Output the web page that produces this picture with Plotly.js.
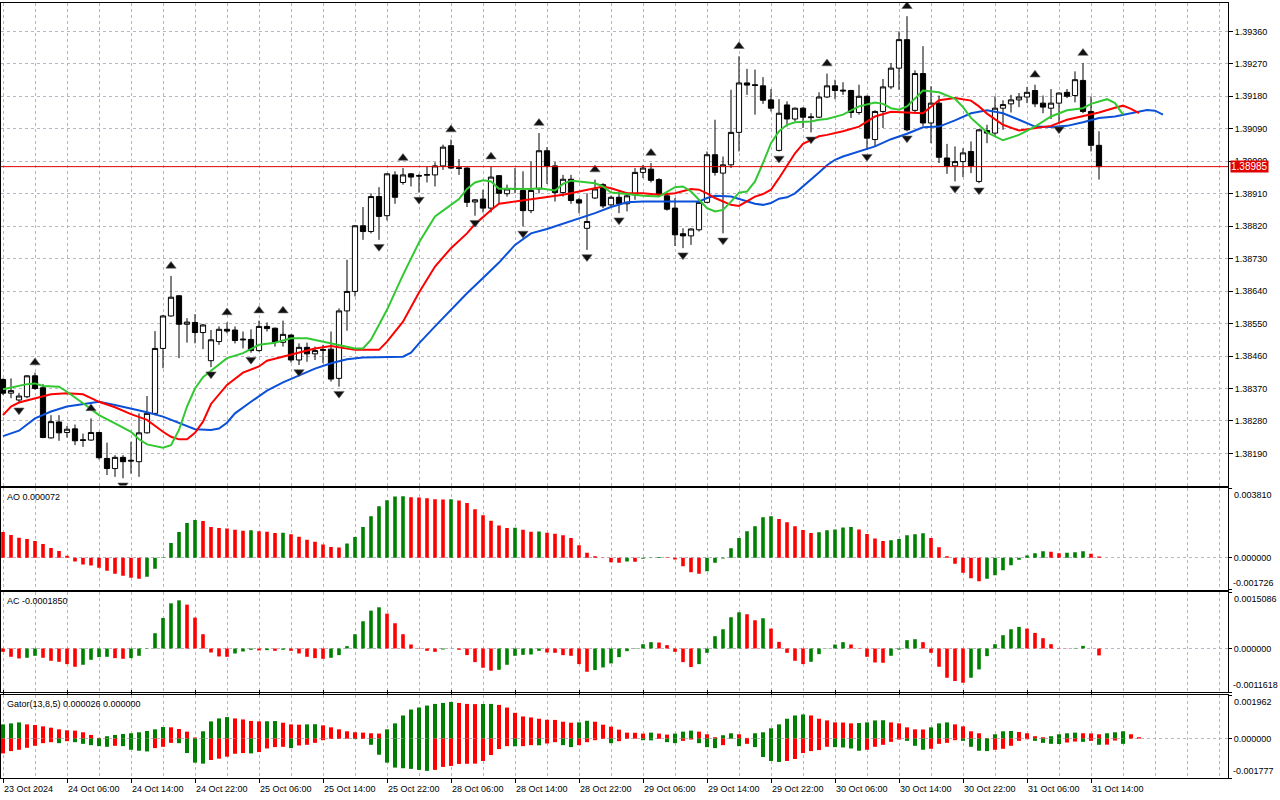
<!DOCTYPE html>
<html><head><meta charset="utf-8">
<script src="https://cdn.plot.ly/plotly-3.0.1.min.js"></script>
<style>html,body{margin:0;padding:0;background:#fff;overflow:hidden}#chart{width:1280px;height:800px}</style>
</head><body><div id="chart"></div>
<script>
// ---------- DATA ----------
const timeLabels = ['23 Oct 2024','24 Oct 06:00','24 Oct 14:00','24 Oct 22:00','25 Oct 06:00','25 Oct 14:00','25 Oct 22:00','28 Oct 06:00','28 Oct 14:00','28 Oct 22:00','29 Oct 06:00','29 Oct 14:00','29 Oct 22:00','30 Oct 06:00','30 Oct 14:00','30 Oct 22:00','31 Oct 06:00','31 Oct 14:00'];
const labelBars = [0,8,16,24,32,40,48,56,64,72,80,88,96,104,112,120,128,136];
const priceTicks = [1.38190,1.38280,1.38370,1.38460,1.38550,1.38640,1.38730,1.38820,1.38910,1.39000,1.39090,1.39180,1.39270,1.39360];

const opens = [1.38395,1.38357,1.38338,1.38347,1.38405,1.38372,1.38233,1.38277,1.38248,1.38258,
1.38228,1.38227,1.38248,1.38176,1.38148,1.38179,1.38171,1.38167,1.38247,1.38301,
1.38481,1.38571,1.38627,1.38548,1.38553,1.38525,1.38447,1.38500,1.38534,1.38532,
1.38507,1.38506,1.38475,1.38542,1.38537,1.38498,1.38518,1.38449,1.38484,1.38466,
1.38478,1.38479,1.38398,1.38585,1.38639,1.38821,1.38805,1.38902,1.38849,1.38962,
1.38941,1.38965,1.38960,1.38961,1.38962,1.38987,1.39043,1.38982,1.38981,1.38887,
1.38895,1.38870,1.38960,1.38910,1.38923,1.38919,1.38863,1.38923,1.39029,1.38987,
1.38913,1.38950,1.38893,1.38814,1.38898,1.38935,1.38879,1.38900,1.38882,1.38907,
1.38969,1.38978,1.38949,1.38904,1.38870,1.38799,1.38793,1.38810,1.38886,1.39018,
1.38967,1.38990,1.39080,1.39217,1.39212,1.39209,1.39170,1.39030,1.39156,1.39117,
1.39147,1.39123,1.39122,1.39178,1.39209,1.39197,1.39196,1.39135,1.39180,1.39060,
1.39138,1.39206,1.39258,1.39337,1.39141,1.39243,1.39106,1.39161,1.39009,1.38987,
1.38999,1.39027,1.38944,1.39085,1.39078,1.39147,1.39159,1.39170,1.39178,1.39196,
1.39161,1.39147,1.39161,1.39191,1.39182,1.39224,1.39138,1.39044];
const highs = [1.38398,1.38398,1.38358,1.38407,1.38414,1.38382,1.38296,1.38296,1.38266,1.38270,
1.38245,1.38287,1.38250,1.38220,1.38185,1.38185,1.38222,1.38301,1.38349,1.38529,
1.38574,1.38682,1.38629,1.38565,1.38576,1.38549,1.38532,1.38542,1.38553,1.38542,
1.38528,1.38534,1.38558,1.38553,1.38539,1.38558,1.38520,1.38495,1.38497,1.38486,
1.38491,1.38528,1.38592,1.38727,1.38823,1.38873,1.38911,1.38928,1.38967,1.38972,
1.38981,1.38967,1.38965,1.38985,1.38997,1.39046,1.39060,1.39006,1.38983,1.38895,
1.38921,1.38985,1.38961,1.38935,1.38981,1.38972,1.38999,1.39078,1.39039,1.38998,
1.38962,1.38962,1.38898,1.38911,1.38949,1.38939,1.38904,1.38916,1.38913,1.38981,
1.38990,1.38995,1.38953,1.38907,1.38898,1.38814,1.38814,1.38895,1.39027,1.39115,
1.39013,1.39198,1.39291,1.39256,1.39254,1.39233,1.39200,1.39172,1.39166,1.39149,
1.39150,1.39133,1.39191,1.39243,1.39226,1.39219,1.39198,1.39212,1.39182,1.39141,
1.39228,1.39272,1.39360,1.39402,1.39252,1.39319,1.39208,1.39182,1.39048,1.39041,
1.39036,1.39055,1.39089,1.39101,1.39180,1.39169,1.39184,1.39189,1.39206,1.39212,
1.39182,1.39200,1.39191,1.39200,1.39249,1.39272,1.39180,1.39083];
const lows = [1.38352,1.38343,1.38329,1.38343,1.38366,1.38232,1.38231,1.38225,1.38234,1.38213,
1.38208,1.38225,1.38173,1.38130,1.38125,1.38121,1.38134,1.38125,1.38245,1.38296,
1.38426,1.38569,1.38454,1.38497,1.38495,1.38479,1.38429,1.38491,1.38523,1.38495,
1.38481,1.38469,1.38472,1.38528,1.38486,1.38486,1.38442,1.38435,1.38444,1.38449,
1.38440,1.38389,1.38375,1.38530,1.38625,1.38782,1.38800,1.38782,1.38836,1.38882,
1.38935,1.38930,1.38913,1.38941,1.38930,1.38976,1.38978,1.38962,1.38873,1.38849,
1.38858,1.38858,1.38882,1.38902,1.38911,1.38819,1.38856,1.38911,1.38937,1.38888,
1.38902,1.38882,1.38856,1.38754,1.38895,1.38870,1.38874,1.38856,1.38861,1.38893,
1.38953,1.38941,1.38902,1.38863,1.38765,1.38759,1.38768,1.38805,1.38884,1.38960,
1.38800,1.38981,1.39027,1.39184,1.39129,1.39159,1.39138,1.39027,1.39096,1.39110,
1.39092,1.39080,1.39120,1.39175,1.39172,1.39184,1.39120,1.39129,1.39032,1.39041,
1.39092,1.39200,1.39198,1.39083,1.39133,1.39098,1.39050,1.38995,1.38965,1.38944,
1.38956,1.38967,1.38939,1.39050,1.39071,1.39087,1.39135,1.39150,1.39161,1.39150,
1.39133,1.39117,1.39108,1.39175,1.39163,1.39133,1.39027,1.38949];
const closes = [1.38357,1.38364,1.38349,1.38405,1.38370,1.38234,1.38278,1.38247,1.38257,1.38225,
1.38226,1.38248,1.38178,1.38148,1.38179,1.38167,1.38169,1.38247,1.38301,1.38481,
1.38571,1.38623,1.38548,1.38554,1.38525,1.38546,1.38505,1.38534,1.38529,1.38503,
1.38505,1.38475,1.38542,1.38536,1.38498,1.38520,1.38449,1.38484,1.38466,1.38475,
1.38476,1.38396,1.38585,1.38639,1.38821,1.38805,1.38902,1.38847,1.38965,1.38900,
1.38962,1.38956,1.38959,1.38963,1.38987,1.39039,1.38981,1.38980,1.38886,1.38893,
1.38870,1.38956,1.38911,1.38923,1.38924,1.38863,1.38919,1.39029,1.38987,1.38913,
1.38950,1.38891,1.38884,1.38833,1.38923,1.38876,1.38900,1.38882,1.38904,1.38969,
1.38981,1.38947,1.38907,1.38867,1.38796,1.38793,1.38812,1.38886,1.39018,1.38969,
1.38990,1.39080,1.39217,1.39211,1.39210,1.39169,1.39147,1.39133,1.39117,1.39147,
1.39122,1.39121,1.39178,1.39209,1.39196,1.39195,1.39135,1.39180,1.39064,1.39138,
1.39206,1.39258,1.39337,1.39087,1.39243,1.39106,1.39161,1.39011,1.38987,1.38999,
1.39023,1.38987,1.39087,1.39078,1.39147,1.39157,1.39170,1.39178,1.39191,1.39159,
1.39150,1.39161,1.39189,1.39180,1.39226,1.39138,1.39044,1.38985];

const jawX = [0,2,4,6,8,10,12,14,16,18,20,22,24,26,27,28,29,31,33,35,37,39,41,43,45,48,50,51,52,54,56,58,60,62,64,66,68,70,72,74,76,78,80,87,88,89,91,92,94,95,96,97,98,99,100,101,102,103,104,105,107,109,111,113,115,117,119,121,123,125,127,129,131,133,135,137,139,141,142,143,144,145];
const jawY = [1.38238,1.38253,1.38287,1.38306,1.38320,1.38327,1.38333,1.38324,1.38315,1.38304,1.38292,1.38275,1.38257,1.38255,1.38259,1.38275,1.38301,1.38333,1.38364,1.38387,1.38406,1.38425,1.38440,1.38451,1.38456,1.38457,1.38458,1.38469,1.38495,1.38542,1.38588,1.38634,1.38676,1.38719,1.38768,1.38800,1.38812,1.38826,1.38842,1.38856,1.38873,1.38886,1.38888,1.38888,1.38898,1.38904,1.38902,1.38896,1.38882,1.38879,1.38884,1.38896,1.38900,1.38911,1.38930,1.38948,1.38969,1.38989,1.39004,1.39013,1.39027,1.39041,1.39061,1.39076,1.39094,1.39096,1.39113,1.39133,1.39141,1.39133,1.39115,1.39096,1.39095,1.39098,1.39108,1.39120,1.39124,1.39132,1.39137,1.39142,1.39140,1.39129];
const teethX = [0,1,2,4,6,8,10,12,14,16,18,20,21,22,23,24,25,26,27,28,30,32,33,35,37,39,41,43,44,47,48,50,52,54,56,58,59,60,61,62,64,66,68,70,72,74,75,76,77,78,80,82,84,85,86,87,88,89,90,91,92,93,94,95,96,97,98,99,100,101,102,103,105,107,109,111,113,115,117,119,121,122,123,125,127,129,131,133,135,137,139,140,141,142];
const teethY = [1.38296,1.38320,1.38331,1.38343,1.38354,1.38357,1.38354,1.38333,1.38318,1.38299,1.38283,1.38250,1.38236,1.38229,1.38229,1.38247,1.38278,1.38327,1.38352,1.38380,1.38414,1.38431,1.38447,1.38458,1.38469,1.38481,1.38488,1.38481,1.38477,1.38477,1.38500,1.38555,1.38636,1.38708,1.38759,1.38800,1.38826,1.38845,1.38865,1.38882,1.38888,1.38895,1.38902,1.38907,1.38916,1.38925,1.38930,1.38925,1.38919,1.38911,1.38911,1.38907,1.38911,1.38918,1.38923,1.38921,1.38911,1.38898,1.38888,1.38879,1.38876,1.38888,1.38902,1.38909,1.38921,1.38953,1.38987,1.39022,1.39048,1.39059,1.39069,1.39073,1.39083,1.39096,1.39124,1.39137,1.39135,1.39133,1.39169,1.39175,1.39168,1.39152,1.39132,1.39101,1.39085,1.39091,1.39098,1.39115,1.39125,1.39135,1.39148,1.39154,1.39145,1.39133];
const lipsX = [0,1,3,4,5,7,8,10,12,14,16,17,18,20,21,22,23,24,25,26,28,30,32,34,36,38,40,42,44,45,46,48,50,52,54,56,57,58,59,60,61,62,64,66,67,68,69,70,71,72,74,75,76,78,80,82,83,84,85,86,87,88,89,90,91,92,93,94,95,96,97,98,99,101,102,103,105,107,109,110,111,112,113,114,115,117,119,120,121,123,125,127,129,131,133,135,136,138,139,140];
const lipsY = [1.38368,1.38373,1.38382,1.38384,1.38377,1.38375,1.38361,1.38329,1.38296,1.38273,1.38250,1.38229,1.38215,1.38206,1.38213,1.38255,1.38320,1.38370,1.38401,1.38419,1.38454,1.38468,1.38491,1.38497,1.38509,1.38509,1.38500,1.38491,1.38481,1.38481,1.38505,1.38588,1.38685,1.38775,1.38847,1.38879,1.38895,1.38923,1.38941,1.38947,1.38944,1.38924,1.38923,1.38923,1.38925,1.38921,1.38919,1.38937,1.38946,1.38944,1.38939,1.38930,1.38913,1.38909,1.38904,1.38902,1.38916,1.38928,1.38930,1.38916,1.38893,1.38870,1.38861,1.38865,1.38888,1.38913,1.38916,1.38944,1.38995,1.39050,1.39083,1.39101,1.39108,1.39110,1.39115,1.39117,1.39129,1.39152,1.39163,1.39159,1.39147,1.39143,1.39152,1.39175,1.39196,1.39191,1.39173,1.39150,1.39120,1.39080,1.39058,1.39073,1.39096,1.39124,1.39141,1.39147,1.39159,1.39172,1.39161,1.39129];

const fractalUpBars = [4,11,21,28,32,35,50,56,61,67,74,81,92,103,113,129,135];
const fractalDownBars = [2,15,26,31,37,42,47,52,59,65,73,77,85,90,97,101,108,113,119,122,132];

const aoValues = [0.001409,0.001246,0.001102,0.001029,0.000921,0.000759,0.000542,0.000379,0.000108,-0.000199,
-0.000361,-0.000415,-0.000542,-0.000704,-0.000867,-0.000975,-0.001084,-0.001138,-0.001029,-0.000596,
0.000030,0.000813,0.001409,0.001896,0.002059,0.002005,0.001680,0.001625,0.001607,0.001535,
0.001481,0.001499,0.001445,0.001427,0.001355,0.001364,0.001282,0.001156,0.000993,0.000885,
0.000722,0.000596,0.000560,0.000777,0.001138,0.001680,0.002276,0.002817,0.003142,0.003341,
0.003359,0.003305,0.003287,0.003251,0.003197,0.003179,0.003197,0.003124,0.002998,0.002655,
0.002330,0.002023,0.001770,0.001625,0.001643,0.001535,0.001427,0.001436,0.001373,0.001318,
0.001228,0.001084,0.000689,0.000272,0.000091,0.000018,-0.000236,-0.000272,-0.000200,-0.000218,
-0.000050,0.000020,0.000050,0.000030,-0.000091,-0.000454,-0.000780,-0.000871,-0.000726,-0.000272,
-0.000036,0.000526,0.001088,0.001451,0.001723,0.002213,0.002268,0.002122,0.001941,0.001723,
0.001524,0.001361,0.001397,0.001506,0.001542,0.001650,0.001680,0.001542,0.001306,0.001052,
0.000925,0.000961,0.001034,0.001234,0.001288,0.001342,0.001088,0.000580,0.000091,-0.000327,
-0.000816,-0.001107,-0.001270,-0.001143,-0.000943,-0.000671,-0.000399,-0.000100,0.000127,0.000254,
0.000363,0.000327,0.000254,0.000272,0.000308,0.000363,0.000218,0.000072];

const acValues = [-0.000089,-0.000222,-0.000266,-0.000248,-0.000195,-0.000248,-0.000328,-0.000355,-0.000417,-0.000488,
-0.000435,-0.000302,-0.000231,-0.000222,-0.000257,-0.000275,-0.000257,-0.000195,-0.000009,0.000408,
0.000816,0.001206,0.001286,0.001171,0.000825,0.000381,-0.000106,-0.000213,-0.000222,-0.000133,
-0.000080,-0.000035,-0.000053,-0.000044,-0.000062,-0.000035,-0.000062,-0.000133,-0.000222,-0.000257,
-0.000275,-0.000248,-0.000177,0.000062,0.000381,0.000727,0.001011,0.001100,0.000931,0.000674,
0.000381,0.000106,0.000009,-0.000062,-0.000089,-0.000027,-0.000004,-0.000035,-0.000177,-0.000364,
-0.000514,-0.000594,-0.000568,-0.000435,-0.000195,-0.000169,-0.000160,-0.000062,-0.000106,-0.000115,
-0.000177,-0.000195,-0.000417,-0.000621,-0.000577,-0.000506,-0.000399,-0.000231,-0.000071,0.000010,
0.000115,0.000169,0.000160,0.000089,-0.000089,-0.000364,-0.000497,-0.000417,-0.000115,0.000328,
0.000514,0.000834,0.000967,0.000914,0.000754,0.000807,0.000532,0.000177,-0.000115,-0.000328,
-0.000417,-0.000355,-0.000151,-0.000005,0.000106,0.000169,0.000106,-0.000009,-0.000222,-0.000373,
-0.000381,-0.000195,-0.000030,0.000222,0.000248,0.000169,-0.000115,-0.000488,-0.000781,-0.000869,
-0.000914,-0.000781,-0.000559,-0.000204,0.000115,0.000355,0.000514,0.000577,0.000532,0.000417,
0.000275,0.000115,0.000010,0.000005,0.000010,0.000070,0.000000,-0.000185];

const gatorUpper = [0.000639,0.000684,0.000728,0.000639,0.000609,0.000550,0.000490,0.000416,0.000372,0.000357,
0.000282,0.000163,0.000030,0.000104,0.000163,0.000208,0.000238,0.000282,0.000342,0.000416,
0.000520,0.000505,0.000431,0.000312,0.000045,0.000327,0.000773,0.000906,0.000966,0.000906,
0.000862,0.000795,0.000773,0.000780,0.000788,0.000713,0.000639,0.000624,0.000639,0.000646,
0.000594,0.000505,0.000416,0.000327,0.000282,0.000267,0.000238,0.000223,0.000416,0.000684,
0.001040,0.001308,0.001397,0.001486,0.001560,0.001605,0.001649,0.001605,0.001560,0.001551,
0.001556,0.001560,0.001516,0.001397,0.001159,0.000996,0.000951,0.000892,0.000847,0.000840,
0.000758,0.000713,0.000728,0.000802,0.000758,0.000624,0.000535,0.000401,0.000267,0.000260,
0.000223,0.000267,0.000223,0.000178,0.000223,0.000312,0.000357,0.000312,0.000193,0.000059,
0.000149,0.000238,0.000193,0.000030,0.000238,0.000282,0.000461,0.000639,0.000892,0.001040,
0.001085,0.001040,0.000892,0.000817,0.000728,0.000721,0.000684,0.000698,0.000728,0.000817,
0.000825,0.000728,0.000684,0.000505,0.000416,0.000409,0.000505,0.000684,0.000728,0.000639,
0.000550,0.000327,0.000238,0.000020,0.000193,0.000327,0.000342,0.000297,0.000238,0.000104,
0.000059,0.000104,0.000193,0.000238,0.000267,0.000238,0.000230,0.000193,0.000238,0.000282,
0.000327,0.000193,0.000059];

const gatorLower = [-0.000669,-0.000565,-0.000505,-0.000416,-0.000327,-0.000208,-0.000163,-0.000208,-0.000119,-0.000163,
-0.000238,-0.000297,-0.000342,-0.000372,-0.000327,-0.000342,-0.000505,-0.000550,-0.000580,-0.000431,
-0.000372,-0.000193,-0.000208,-0.000654,-0.001085,-0.001129,-0.000966,-0.000906,-0.000817,-0.000684,
-0.000654,-0.000669,-0.000609,-0.000446,-0.000386,-0.000372,-0.000431,-0.000312,-0.000282,-0.000193,
-0.000074,-0.000015,-0.000010,-0.000005,-0.000025,-0.000012,-0.000282,-0.000728,-0.001085,-0.001308,
-0.001337,-0.001367,-0.001412,-0.001456,-0.001412,-0.001278,-0.001233,-0.001144,-0.001137,-0.001129,
-0.001010,-0.000743,-0.000476,-0.000342,-0.000349,-0.000342,-0.000297,-0.000305,-0.000223,-0.000163,
-0.000297,-0.000386,-0.000297,-0.000163,-0.000074,-0.000015,-0.000208,-0.000119,-0.000010,-0.000005,
-0.000074,-0.000082,-0.000015,-0.000163,-0.000208,-0.000104,-0.000045,-0.000208,-0.000386,-0.000431,
-0.000297,-0.000007,-0.000342,-0.000238,-0.000386,-0.000832,-0.001010,-0.001055,-0.001010,-0.000921,
-0.000654,-0.000565,-0.000520,-0.000371,-0.000386,-0.000401,-0.000446,-0.000550,-0.000505,-0.000372,
-0.000282,-0.000149,-0.000045,-0.000104,-0.000327,-0.000505,-0.000461,-0.000238,-0.000193,-0.000074,
-0.000104,-0.000372,-0.000550,-0.000565,-0.000505,-0.000461,-0.000327,-0.000104,-0.000030,-0.000104,
-0.000193,-0.000238,-0.000245,-0.000178,-0.000134,-0.000149,-0.000104,-0.000282,-0.000275,-0.000089,
-0.000238];

const priceRange = [1.38101, 1.39440];
const aoRange = [-0.001726, 0.003810];
const acRange = [-0.0011618, 0.0015086];
const gatorRange = [-0.001777, 0.001962];
const aoLabel = 'AO 0.000072';
const acLabel = 'AC -0.0001850';
const gatorLabel = 'Gator(13,8,5) 0.000026 0.000000';

// ---------- STYLE / LAYOUT ----------
const GREEN = '#008000', RED = '#ff0000';
const GRID = '#bdb2c8';
const FONT = 'Liberation Sans, Arial, sans-serif';
const W = 1280, H = 800;
const M = {l: 1, r: 52, t: 0, b: 22};
const PH = H - M.t - M.b;
const panelPx = {main: [2.5, 485.5], ao: [488, 589.5], ac: [592, 692], gator: [695, 778]};
const dom = p => [(PH - p[1]) / PH, (PH - p[0]) / PH];

function riseColors(vals, first, useAbs) {
  return vals.map((v, i) => {
    if (i === 0) return first;
    const a = useAbs ? Math.abs(v) : v, b = useAbs ? Math.abs(vals[i-1]) : vals[i-1];
    return a > b ? GREEN : RED;
  });
}
const idx = arr => arr.map((_, i) => i);

const mainPx = panelPx.main[1] - panelPx.main[0];
const pricePerPx = (priceRange[1] - priceRange[0]) / mainPx;

const traces = [];
traces.push({
  type: 'candlestick', x: idx(opens), open: opens, high: highs, low: lows, close: closes,
  xaxis: 'x', yaxis: 'y', hoverinfo: 'skip', whiskerwidth: 0,
  increasing: {line: {color: '#000', width: 1}, fillcolor: '#ffffff'},
  decreasing: {line: {color: '#000', width: 1}, fillcolor: '#000000'}
});
traces.push({type: 'scatter', mode: 'lines', x: jawX, y: jawY, line: {color: '#0a50d8', width: 2}, xaxis: 'x', yaxis: 'y', hoverinfo: 'skip'});
traces.push({type: 'scatter', mode: 'lines', x: teethX, y: teethY, line: {color: '#ff0000', width: 2}, xaxis: 'x', yaxis: 'y', hoverinfo: 'skip'});
traces.push({type: 'scatter', mode: 'lines', x: lipsX, y: lipsY, line: {color: '#32c832', width: 2}, xaxis: 'x', yaxis: 'y', hoverinfo: 'skip'});
traces.push({type: 'scatter', mode: 'markers', x: fractalUpBars, y: fractalUpBars.map(i => highs[i] + 10 * pricePerPx),
  marker: {symbol: 'triangle-up', size: 9, color: '#111', line: {color: '#666', width: 0.6}}, xaxis: 'x', yaxis: 'y', hoverinfo: 'skip'});
traces.push({type: 'scatter', mode: 'markers', x: fractalDownBars, y: fractalDownBars.map(i => lows[i] - 7 * pricePerPx),
  marker: {symbol: 'triangle-down', size: 9, color: '#111', line: {color: '#666', width: 0.6}}, xaxis: 'x', yaxis: 'y', hoverinfo: 'skip'});
traces.push({type: 'bar', x: idx(aoValues), y: aoValues, width: 0.45, marker: {color: riseColors(aoValues, RED, false), line: {width: 0}}, xaxis: 'x', yaxis: 'y2', hoverinfo: 'skip'});
traces.push({type: 'bar', x: idx(acValues), y: acValues, width: 0.45, marker: {color: riseColors(acValues, RED, false), line: {width: 0}}, xaxis: 'x', yaxis: 'y3', hoverinfo: 'skip'});
traces.push({type: 'bar', x: idx(gatorUpper), y: gatorUpper, width: 0.5, marker: {color: riseColors(gatorUpper, GREEN, true), line: {width: 0}}, xaxis: 'x', yaxis: 'y4', hoverinfo: 'skip'});
traces.push({type: 'bar', x: idx(gatorLower), y: gatorLower, width: 0.5, marker: {color: riseColors(gatorLower, RED, true), line: {width: 0}}, xaxis: 'x', yaxis: 'y4', hoverinfo: 'skip'});

const tickFont = {family: FONT, size: 9, color: '#000'};
function subAxis(domain, range) {
  return {domain: domain, range: range, anchor: 'x', side: 'right', fixedrange: true,
    tickvals: [range[0], 0, range[1]], ticktext: ['', '0.000000', ''],
    ticks: 'outside', ticklen: 3, tickcolor: '#000', tickfont: tickFont,
    showgrid: true, gridcolor: GRID, griddash: '3px,3px', gridwidth: 1, zeroline: false,
    showline: true, mirror: true, linecolor: '#000', linewidth: 1};
}

const lastClose = closes[closes.length - 1];
const annotations = [];
labelBars.forEach((b, k) => annotations.push({x: b, xref: 'x', y: 0, yref: 'paper', yanchor: 'top', yshift: -4,
  xanchor: 'left', xshift: -1, text: timeLabels[k], showarrow: false, font: tickFont}));
annotations.push({x: 1, xref: 'paper', xanchor: 'left', xshift: 2, y: lastClose, yref: 'y', text: lastClose.toFixed(5),
  showarrow: false, bgcolor: '#e00000', font: {family: FONT, size: 10, color: '#fff'}, borderpad: 0});
[['y2', aoLabel, aoRange, ['0.003810', '-0.001726']], ['y3', acLabel, acRange, ['0.0015086', '-0.0011618']], ['y4', gatorLabel, gatorRange, ['0.001962', '-0.001777']]].forEach(([ax, lab, rg, tx]) => {
  annotations.push({x: 0, xref: 'paper', xanchor: 'left', xshift: 4, y: 1, yref: ax + ' domain', yanchor: 'top', yshift: -2,
    text: lab, showarrow: false, font: tickFont});
  annotations.push({x: 1, xref: 'paper', xanchor: 'left', xshift: 4, y: 1, yref: ax + ' domain', yanchor: 'top', yshift: 0,
    text: tx[0], showarrow: false, font: tickFont});
  annotations.push({x: 1, xref: 'paper', xanchor: 'left', xshift: 3, y: 0, yref: ax + ' domain', yanchor: 'bottom', yshift: 0,
    text: tx[1], showarrow: false, font: tickFont});
});

const layout = {
  width: W, height: H, margin: M, paper_bgcolor: '#fff', plot_bgcolor: '#fff',
  showlegend: false, hovermode: false, barmode: 'overlay', dragmode: false,
  boxgap: 0.35, boxgroupgap: 0,
  xaxis: {domain: [0, 1], anchor: 'y4', range: [-0.25, -0.25 + (W - M.l - M.r) / 8], fixedrange: true,
    rangeslider: {visible: false}, tickvals: labelBars, showticklabels: false,
    ticks: 'outside', ticklen: 4, tickcolor: '#000',
    showgrid: true, gridcolor: GRID, griddash: '3px,3px', gridwidth: 1, zeroline: false,
    minor: {dtick: 4, tick0: 0, showgrid: true, gridcolor: GRID, griddash: '3px,3px', gridwidth: 1, ticks: ''},
    showline: true, mirror: 'all', linecolor: '#000', linewidth: 1},
  yaxis: {domain: dom(panelPx.main), range: priceRange, anchor: 'x', side: 'right', fixedrange: true,
    tickvals: priceTicks, ticktext: priceTicks.map(v => v.toFixed(5)),
    ticks: 'outside', ticklen: 4, tickcolor: '#000', tickfont: tickFont,
    showgrid: true, gridcolor: GRID, griddash: '3px,3px', gridwidth: 1, zeroline: false,
    showline: true, mirror: true, linecolor: '#000', linewidth: 1},
  yaxis2: subAxis(dom(panelPx.ao), aoRange),
  yaxis3: subAxis(dom(panelPx.ac), acRange),
  yaxis4: subAxis(dom(panelPx.gator), gatorRange),
  shapes: [{type: 'line', xref: 'paper', x0: 0, x1: 1, yref: 'y', y0: lastClose, y1: lastClose, line: {color: '#e00000', width: 1}, layer: 'above'}],
  annotations: annotations
};

Plotly.newPlot('chart', traces, layout, {staticPlot: true, displayModeBar: false});
</script>
</body></html>
